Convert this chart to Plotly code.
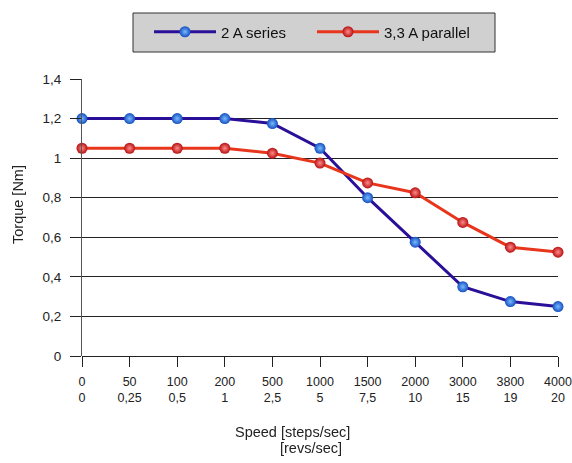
import plotly.graph_objects as go

steps = ["0", "50", "100", "200", "500", "1000", "1500", "2000", "3000", "3800", "4000"]
revs = ["0", "0,25", "0,5", "1", "2,5", "5", "7,5", "10", "15", "19", "20"]
series_2a = [1.2, 1.2, 1.2, 1.2, 1.175, 1.05, 0.8, 0.575, 0.35, 0.275, 0.25]
parallel_33a = [1.05, 1.05, 1.05, 1.05, 1.025, 0.975, 0.875, 0.825, 0.675, 0.55, 0.525]
ytick_vals = [0, 0.2, 0.4, 0.6, 0.8, 1.0, 1.2, 1.4]
ytick_text = ["0", "0,2", "0,4", "0,6", "0,8", "1", "1,2", "1,4"]

W, H = 572, 463
L, R, T, B = 82, 14, 79, 107
pw, ph = W - L - R, H - T - B

def px_x(x):  # x in pixels -> paper
    return (x - L) / pw

def px_y(y):  # y in pixels -> paper
    return (H - B - y) / ph

font = "Liberation Sans, Arial, sans-serif"
txt = "#222"

fig = go.Figure()
fig.add_trace(go.Scatter(
    x=steps, y=series_2a, name="2 A series", mode="lines+markers",
    line=dict(color="#2a0f98", width=3),
    marker=dict(size=11, color="#1450c0", gradient=dict(type="radial", color="#7ab8ff")),
    cliponaxis=False,
))
fig.add_trace(go.Scatter(
    x=steps, y=parallel_33a, name="3,3 A parallel", mode="lines+markers",
    line=dict(color="#e8361c", width=3),
    marker=dict(size=11, color="#b81010", gradient=dict(type="radial", color="#ff8a8a")),
    cliponaxis=False,
))
# invisible helper trace so the second (revs/sec) label axis is drawn
fig.add_trace(go.Scatter(
    x=revs, y=series_2a, xaxis="x2", mode="markers", opacity=0,
    showlegend=False, hoverinfo="skip",
))

fig.update_layout(
    width=W, height=H,
    margin=dict(l=L, r=R, t=T, b=B, autoexpand=False),
    paper_bgcolor="white", plot_bgcolor="white",
    font=dict(family=font, size=13, color=txt),
    showlegend=True,
    legend=dict(
        orientation="h", x=px_x(149), y=px_y(32), yanchor="middle", xanchor="left",
        bgcolor="rgba(0,0,0,0)", borderwidth=0,
        font=dict(size=15, color="#111"),
        itemwidth=62, entrywidth=86, entrywidthmode="pixels",
    ),
    shapes=[dict(
        type="rect", xref="paper", yref="paper",
        x0=px_x(133), x1=px_x(495), y0=px_y(52), y1=px_y(13),
        fillcolor="#d0d0d0", line=dict(color="#333", width=1), layer="below",
    )],
    xaxis=dict(
        type="category", range=[0, 10],
        tickmode="array", tickvals=steps, ticktext=steps,
        ticks="outside", ticklen=10, tickcolor=txt, tickwidth=1,
        showgrid=False, showline=False, zeroline=False,
        tickfont=dict(size=12.5, color=txt), ticklabelstandoff=4,
    ),
    xaxis2=dict(
        type="category", range=[0, 10], overlaying="x", anchor="y", side="bottom",
        tickmode="array", tickvals=revs, ticktext=revs,
        ticks="", showgrid=False, showline=False, zeroline=False,
        tickfont=dict(size=12.5, color=txt), ticklabelstandoff=32,
    ),
    yaxis=dict(
        range=[0, 1.4], tickmode="array", tickvals=ytick_vals, ticktext=ytick_text,
        ticks="outside", ticklen=11, tickcolor=txt, tickwidth=1,
        showgrid=True, gridcolor="#222", gridwidth=1,
        showline=True, linecolor="#555", linewidth=1,
        zeroline=True, zerolinecolor="#222", zerolinewidth=1,
        tickfont=dict(size=13.5, color=txt), ticklabelstandoff=6,
    ),
    annotations=[
        dict(text="Torque [Nm]", xref="paper", yref="paper", x=px_x(18), y=px_y(205),
             xanchor="center", yanchor="middle",
             showarrow=False, textangle=-90, font=dict(size=14.5, color=txt)),
        dict(text="Speed [steps/sec]", xref="paper", yref="paper", x=px_x(292), y=px_y(432),
             xanchor="center", yanchor="middle",
             showarrow=False, font=dict(size=14.5, color=txt)),
        dict(text="[revs/sec]", xref="paper", yref="paper", x=px_x(311), y=px_y(448),
             xanchor="center", yanchor="middle",
             showarrow=False, font=dict(size=14.5, color=txt)),
    ],
)

fig.write_html(
    "out.html",
    config={"displayModeBar": False},
    post_script="document.body.style.margin='0';document.body.style.overflow='hidden';",
)
